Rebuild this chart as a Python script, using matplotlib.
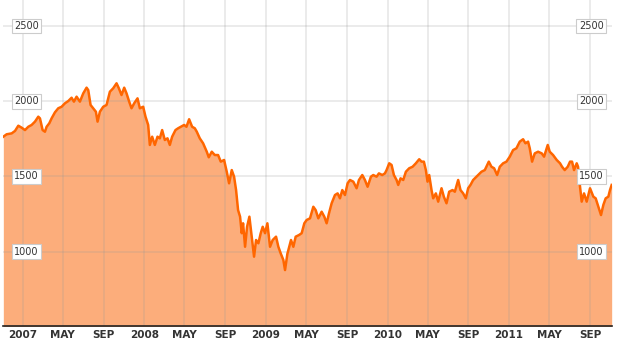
import pandas as pd
import matplotlib.pyplot as plt
import matplotlib.transforms as mtransforms

start = pd.Timestamp("2006-11-01")
days = [3, 13, 28, 38, 48, 58, 68, 78, 88, 98, 108, 113, 121, 128, 133, 141, 148, 158, 168, 178,
        188, 198, 208, 215, 223, 233, 243, 253, 258, 265, 273, 281, 286, 293, 303, 313, 323, 333, 343, 350,
        358, 366, 373, 381, 388, 396, 406, 413, 423, 430, 438, 443, 450, 458, 466, 473, 480, 488, 496, 503,
        510, 520, 528, 536, 546, 553, 561, 570, 578, 584, 593, 603, 614, 620, 629, 638, 648, 656, 666, 674,
        681, 689, 696, 702, 708, 714, 719, 723, 729, 735, 742, 749, 756, 762, 769, 776, 782, 789, 796, 804,
        812, 822, 829, 836, 844, 849, 856, 867, 874, 881, 891, 899, 907, 914, 924, 934, 941, 949, 959, 967,
        974, 981, 989, 999, 1007, 1014, 1021, 1029, 1037, 1044, 1054, 1064, 1071, 1081, 1089, 1097, 1107, 1114, 1124, 1131,
        1141, 1149, 1154, 1162, 1169, 1176, 1184, 1189, 1196, 1204, 1212, 1222, 1232, 1242, 1252, 1259, 1266, 1272, 1277, 1282,
        1289, 1294, 1302, 1309, 1319, 1326, 1334, 1342, 1352, 1359, 1369, 1376, 1384, 1392, 1399, 1406, 1414, 1424, 1434, 1439,
        1449, 1461, 1469, 1477, 1486, 1494, 1504, 1514, 1524, 1534, 1544, 1554, 1564, 1571, 1579, 1584, 1591, 1599, 1609, 1620,
        1627, 1638, 1644, 1654, 1665, 1675, 1681, 1689, 1698, 1705, 1711, 1717, 1725, 1729, 1735, 1740, 1747, 1755, 1765, 1775,
        1782, 1790, 1798, 1805, 1812, 1820, 1825, 1830]
values = [1764, 1780, 1786, 1802, 1837, 1824, 1808, 1830, 1842, 1864, 1897, 1886, 1808, 1797, 1830, 1853, 1886, 1926, 1953, 1963,
          1986, 2001, 2023, 1997, 2030, 1997, 2052, 2090, 2074, 1975, 1953, 1930, 1864, 1930, 1963, 1975, 2063, 2086, 2119, 2086,
          2041, 2090, 2052, 1997, 1953, 1986, 2019, 1953, 1963, 1897, 1842, 1709, 1764, 1709, 1764, 1753, 1808, 1742, 1753, 1709,
          1764, 1808, 1820, 1830, 1842, 1830, 1880, 1830, 1820, 1797, 1753, 1720, 1664, 1627, 1664, 1642, 1642, 1598, 1609, 1531,
          1454, 1542, 1498, 1409, 1276, 1232, 1122, 1188, 1032, 1165, 1232, 1099, 966, 1077, 1055, 1122, 1165, 1122, 1188, 1032,
          1077, 1099, 1032, 988, 944, 877, 984, 1077, 1032, 1099, 1110, 1122, 1188, 1210, 1221, 1298, 1276, 1221, 1265, 1232,
          1188, 1254, 1321, 1376, 1387, 1354, 1409, 1376, 1454, 1476, 1465, 1421, 1476, 1509, 1476, 1431, 1498, 1509, 1498, 1520,
          1509, 1520, 1542, 1587, 1576, 1509, 1476, 1443, 1487, 1476, 1531, 1554, 1564, 1587, 1614, 1598, 1598, 1542, 1465, 1509,
          1409, 1354, 1387, 1332, 1421, 1365, 1321, 1398, 1409, 1398, 1476, 1409, 1387, 1354, 1421, 1443, 1476, 1498, 1520, 1531,
          1542, 1598, 1564, 1554, 1509, 1564, 1587, 1598, 1631, 1675, 1687, 1731, 1747, 1720, 1731, 1687, 1598, 1653, 1664, 1653,
          1631, 1709, 1664, 1642, 1609, 1587, 1564, 1542, 1564, 1598, 1598, 1542, 1587, 1564, 1431, 1332, 1387, 1332, 1421, 1365,
          1354, 1298, 1243, 1310, 1354, 1365, 1409, 1443]

tick_dates = ["2007-01-01", "2007-05-01", "2007-09-01", "2008-01-01", "2008-05-01", "2008-09-01",
              "2009-01-01", "2009-05-01", "2009-09-01", "2010-01-01", "2010-05-01", "2010-09-01",
              "2011-01-01", "2011-05-01", "2011-09-01"]
tick_labels = ["2007", "MAY", "SEP", "2008", "MAY", "SEP", "2009", "MAY", "SEP",
               "2010", "MAY", "SEP", "2011", "MAY", "SEP"]
level_ticks = [1000, 1500, 2000, 2500]

dates = start + pd.to_timedelta(days, unit="D")
narrow = ["Liberation Sans Narrow", "DejaVu Sans Condensed", "DejaVu Sans"]

fig = plt.figure(figsize=(6.18, 3.42), dpi=100)
ax = fig.add_axes([3 / 618, 16 / 342, 609 / 618, 326 / 342])

# area under the line, then the line itself
ax.fill_between(dates, values, 0, color="#fcad7b", linewidth=0, zorder=1)
ax.plot(dates, values, color="#ff6600", linewidth=1.8, zorder=3, solid_joinstyle="round")

ax.set_ylim(505, 2673)
ax.set_xlim(dates[0] - pd.Timedelta(days=1), dates[-1] + pd.Timedelta(days=1))

# grid goes over the fill but under the line
ax.set_axisbelow(False)
ax.grid(True, color="#999999", alpha=0.2, linewidth=1.4)

ax.set_yticks(level_ticks)
ax.set_yticklabels([])
ax.set_xticks(pd.to_datetime(tick_dates))
ax.set_xticklabels(tick_labels, fontsize=7.5, fontweight="bold", color="#333333", family=narrow)
ax.tick_params(length=0, pad=3)

for side in ["top", "left", "right"]:
    ax.spines[side].set_visible(False)
ax.spines["bottom"].set_color("#222222")
ax.spines["bottom"].set_linewidth(1.2)
ax.spines["bottom"].set_zorder(4)

# boxed level labels on both sides, inside the plot
trans = mtransforms.blended_transform_factory(ax.transAxes, ax.transData)
for v in level_ticks:
    for xpos in [0.0386, 0.966]:
        ax.text(xpos, v, str(v), transform=trans, ha="center", va="center",
                fontsize=7, color="#333333", family=narrow, zorder=5,
                bbox=dict(boxstyle="square,pad=0.25", fc="white", ec="#cccccc", lw=0.8))

fig.savefig("out.png", dpi=100)
